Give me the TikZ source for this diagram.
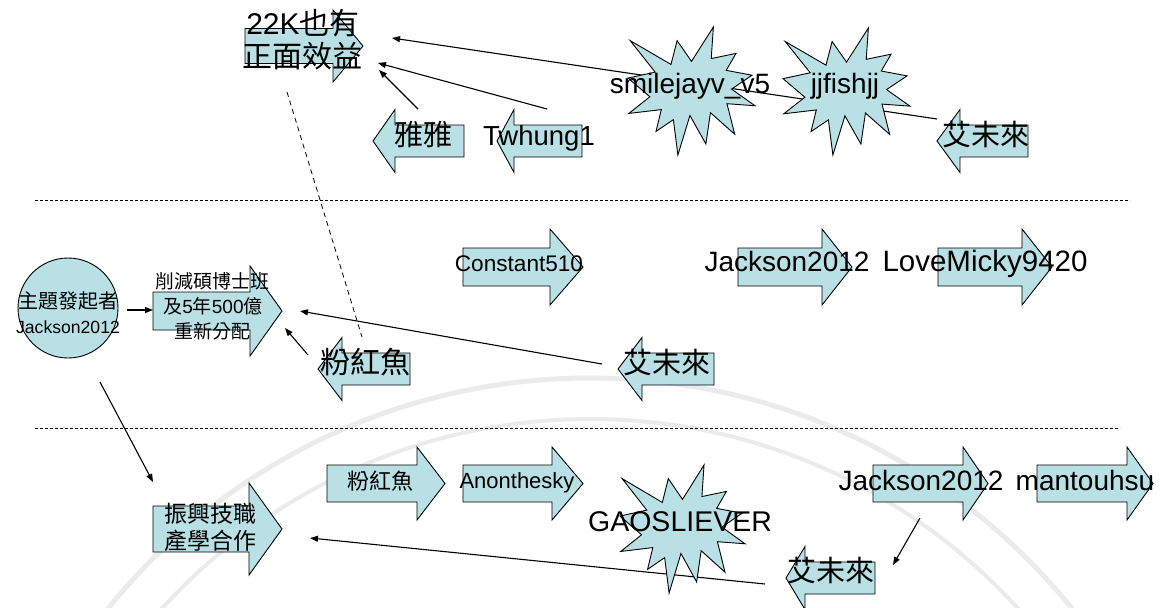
\documentclass[tikz,border=0pt]{standalone}
\usepackage{fontspec}
\setmainfont{Liberation Sans}
\newfontfamily\cjk{Noto Sans CJK TC}
\usetikzlibrary{arrows.meta}
\definecolor{boxfill}{RGB}{185,224,228}

\tikzset{
  blockshape/.style={fill=boxfill, draw=black, line width=0.9pt, line join=miter},
  link/.style={draw=black, line width=1.1pt, -{Triangle[length=8pt,width=6pt]}},
  guide/.style={draw=black, line width=0.8pt, dash pattern=on 3pt off 2pt},
  fs/.style={font=\fontsize{#1}{#1}\selectfont, inner sep=0pt, text height=0.72em, text depth=0pt},
}

% right-pointing block arrow: name, left, head base, tip, centre y, half body, half head
\newcommand\rightblock[7]{%
  \filldraw[blockshape] ({#2},{#5-#6}) -- ({#3},{#5-#6}) -- ({#3},{#5-#7}) -- ({#4},{#5})
    -- ({#3},{#5+#7}) -- ({#3},{#5+#6}) -- ({#2},{#5+#6}) -- cycle;
  \coordinate (#1) at ({(#2+#4)/2},{#5});}
% left-pointing block arrow: name, tip, head base, right, centre y, half body, half head
\newcommand\leftblock[7]{%
  \filldraw[blockshape] ({#4},{#5-#6}) -- ({#3},{#5-#6}) -- ({#3},{#5-#7}) -- ({#2},{#5})
    -- ({#3},{#5+#7}) -- ({#3},{#5+#6}) -- ({#4},{#5+#6}) -- cycle;
  \coordinate (#1) at ({(#2+#4)/2},{#5});}
% explosion burst inside a box: name, left, top, width, height
\newcommand\burst[5]{%
  \begin{scope}[shift={(#2,#3)}, x=#4/100*1pt, y=-#5/100*1pt]
    \filldraw[blockshape] (50,26.85) -- (67.23,0) -- (65.53,24.65) -- (85.09,20.63)
      -- (77.32,33.87) -- (97.67,37.67) -- (81.51,48.50) -- (100,61.53) -- (77.95,59.92)
      -- (84.00,83.77) -- (64.91,66.93) -- (61.33,91.38) -- (48.76,69.14) -- (39.28,100)
      -- (35.72,72.35) -- (22.05,81.56) -- (26.24,64.52) -- (0.63,67.53) -- (17.23,54.51)
      -- (0,39.88) -- (21.42,35.26) -- (1.71,10.63) -- (33.85,29.26) -- (38.67,10.63) -- cycle;
    \coordinate (#1) at (50,50);
  \end{scope}}

\begin{document}
\begin{tikzpicture}[x=1pt, y=-1pt]
\useasboundingbox (0,0) rectangle (1168,608);

% faint seal in the background
\begin{scope}
  \clip (0,0) rectangle (1168,608);
  \draw[gray!16, line width=5pt] (590,997) circle (619);
  \draw[gray!16, line width=4pt] (590,997) circle (578);
\end{scope}

% band separators
\coordinate (sepA-l) at (35,200);  \coordinate (sepA-r) at (1130,200);
\coordinate (sepB-l) at (35,428);  \coordinate (sepB-r) at (1120,428);
\draw[guide] (sepA-l) -- (sepA-r);
\draw[guide] (sepB-l) -- (sepB-r);

% connector end points
\coordinate (ai1-out) at (937,119);  \coordinate (k22-inA) at (392,38);
\coordinate (tw-out)  at (547,109);  \coordinate (k22-inB) at (378,63);
\coordinate (ya-out)  at (418,109);  \coordinate (k22-inC) at (379,70);
\coordinate (k22-low) at (287,92);   \coordinate (pk2-top) at (362,337);
\coordinate (hub-e)   at (127,310);  \coordinate (cut-in)  at (153,310);
\coordinate (ai2-out) at (602,364);  \coordinate (cut-inB) at (300,311);
\coordinate (pk2-out) at (308,355);  \coordinate (cut-inC) at (285,328);
\coordinate (hub-s)   at (100,382);  \coordinate (rev-in)  at (153,482);
\coordinate (ai3-out) at (765,584);  \coordinate (rev-inB) at (310,538);
\coordinate (jk3-out) at (920,518);  \coordinate (ai3-in)  at (893,565);

% connectors
\draw[link] (ai1-out) -- (k22-inA);
\draw[link] (tw-out) -- (k22-inB);
\draw[link] (ya-out) -- (k22-inC);
\draw[guide, dash pattern=on 5pt off 4pt] (k22-low) -- (pk2-top);
\draw[link] (hub-e) -- (cut-in);
\draw[link] (ai2-out) -- (cut-inB);
\draw[link] (pk2-out) -- (cut-inC);
\draw[link] (hub-s) -- (rev-in);
\draw[link] (ai3-out) -- (rev-inB);
\draw[link] (jk3-out) -- (ai3-in);

% shapes
\rightblock{k22}{245}{333}{363}{46}{17.5}{36}
\leftblock{ya}{373}{395}{464}{141}{16}{31.5}
\leftblock{tw}{497}{514}{582}{141}{16}{31.5}
\leftblock{ai1}{937}{960}{1028}{141}{16}{31.5}
\burst{bs1}{628}{27}{127}{128}
\burst{bs2}{783}{28}{127}{127}

\filldraw[blockshape] (68,308) circle (50);
\coordinate (hub) at (68,308);
\rightblock{cut}{153}{250}{282}{311}{19}{45}
\rightblock{const}{463}{550}{583}{267}{19}{38}
\rightblock{jk2}{738}{822}{852}{267}{19}{38}
\rightblock{love}{938}{1022}{1052}{267}{19}{38}
\leftblock{pk2}{318}{342}{410}{369}{16}{31.5}
\leftblock{ai2}{618}{642}{714}{369}{16}{31.5}

\rightblock{rev}{153}{249}{282}{529}{23}{46}
\rightblock{pk3}{327}{417}{445}{483.5}{18.5}{36.5}
\rightblock{anon}{463}{552}{583}{483.5}{18.5}{36.5}
\rightblock{jk3}{873}{963}{988}{483.5}{18.5}{36.5}
\rightblock{mtu}{1037}{1127}{1153}{483.5}{18.5}{36.5}
\burst{bs3}{620}{465}{125}{128}
\leftblock{ai3}{786}{805}{875}{578}{16}{31.5}

% labels
\node[fs=30] (t22a) at (303,31) {22K{\cjk 也有}};
\node[fs=30] (t22b) at (302,64) {\cjk 正面效益};
\node[fs=29] (tya) at (423,142) {\cjk 雅雅};
\node[fs=27.5] (ttw) at (539,142) {Twhung1};
\node[fs=28] (ts1) at (690,90) {smilejayv\_v5};
\node[fs=28] (ts2) at (845,90) {jjfishjj};
\node[fs=29] (tai1) at (986,142) {\cjk 艾未來};

\node[fs=20] (thub1) at (68,305) {\cjk 主題發起者};
\node[fs=17.6] (thub2) at (68,330) {Jackson2012};
\node[fs=19] (tcut1) at (212,285) {\cjk 削減碩博士班};
\node[fs=19] (tcut2) at (213,310) {{\cjk 及}5{\cjk 年}500{\cjk 億}};
\node[fs=19] (tcut3) at (212,335) {\cjk 重新分配};
\node[fs=22.6] (tconst) at (519,268) {Constant510};
\node[fs=28] (tjk2) at (787,268) {Jackson2012};
\node[fs=29.5] (tlove) at (985,268) {LoveMicky9420};
\node[fs=30] (tpk2) at (365,370) {\cjk 粉紅魚};
\node[fs=29] (tai2) at (667,370) {\cjk 艾未來};

\node[fs=23] (trev1) at (210,519) {\cjk 振興技職};
\node[fs=23] (trev2) at (210,546) {\cjk 產學合作};
\node[fs=22] (tpk3) at (380,486) {\cjk 粉紅魚};
\node[fs=22] (tanon) at (517,485) {Anonthesky};
\node[fs=28.5] (tgao) at (680,528) {GAOSLIEVER};
\node[fs=28] (tjk3) at (921,487) {Jackson2012};
\node[fs=28] (tmtu) at (1085,487) {mantouhsu};
\node[fs=29] (tai3) at (831,578) {\cjk 艾未來};
\end{tikzpicture}
\end{document}
